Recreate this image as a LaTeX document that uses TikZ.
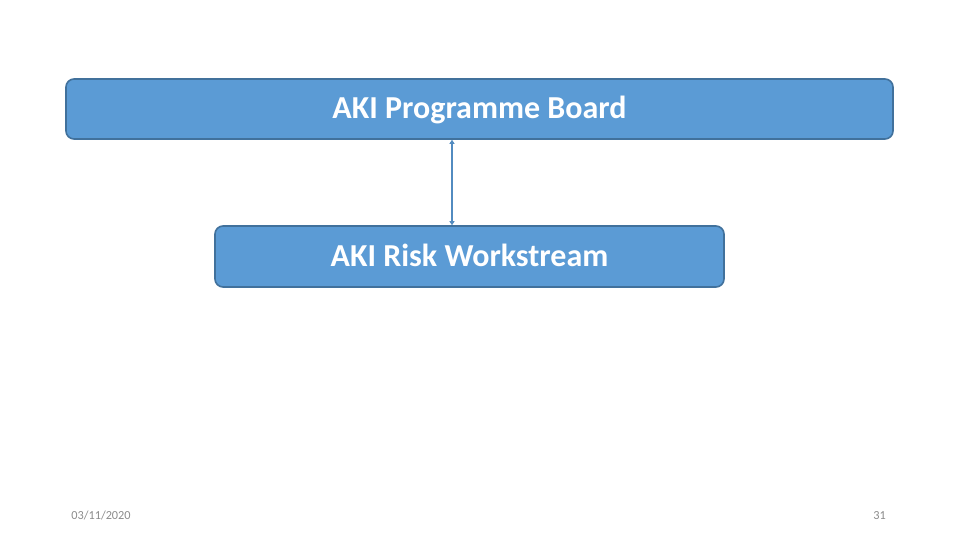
\documentclass[tikz,border=0pt]{standalone}
\usepackage{fontspec}
\setmainfont{Carlito}
\usetikzlibrary{arrows.meta,calc}
\definecolor{BoxBlue}{HTML}{5B9BD5}
\definecolor{BoxEdge}{HTML}{41719C}
\definecolor{FootGrey}{HTML}{8B8B8B}
\tikzset{
  panel/.style={draw=BoxEdge, fill=BoxBlue, line width=1.6pt, rounded corners=8pt,
    font=\fontsize{32}{36}\selectfont\bfseries, text=white, text height=21pt, text depth=1pt},
  link/.style={draw=BoxBlue!90!black, line width=1.2pt,
    {Triangle[width=5pt,length=4pt]}-{Triangle[width=5pt,length=4pt]}},
  foot/.style={font=\fontsize{12.3}{14}\selectfont, text=FootGrey, anchor=base}
}
\begin{document}
\begin{tikzpicture}[x=1pt,y=-1pt]
  \useasboundingbox (0,0) rectangle (960,540);
  % the two boxes
  \node[panel, minimum width=827pt, minimum height=60pt] (board) at (479.5,109) {AKI Programme Board};
  \node[panel, minimum width=509pt, minimum height=61pt] (risk) at (469.5,256.5) {AKI Risk Workstream};
  % connector between them
  \coordinate (mid) at (452,182);
  \draw[link] (mid |- board.south) -- (mid |- risk.north);
  % footer
  \node[foot] (date) at (101,519) {03/11/2020};
  \node[foot] (page) at (879.5,519) {31};
\end{tikzpicture}
\end{document}
